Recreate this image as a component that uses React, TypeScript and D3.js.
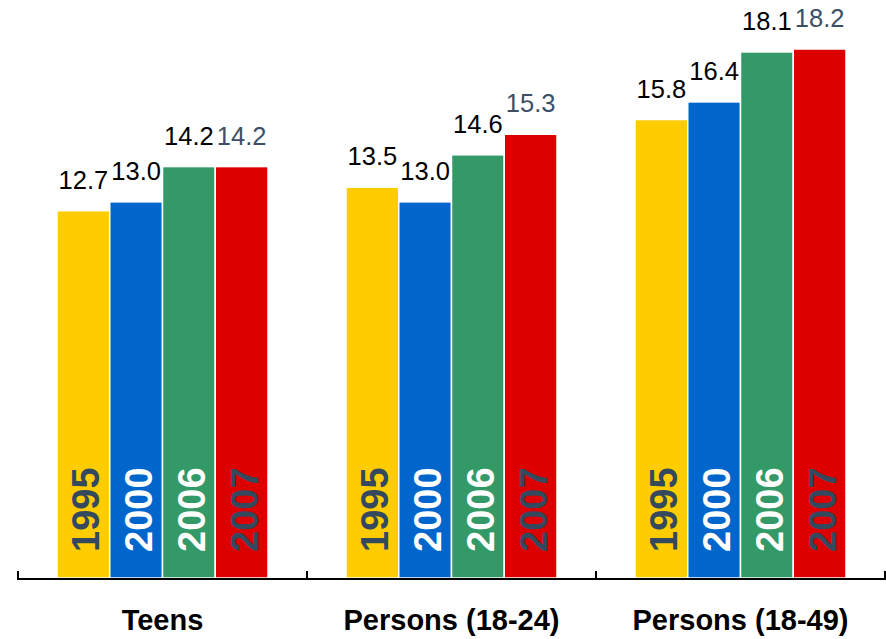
import React from "react";
import * as d3 from "d3";

const categories = ["Teens", "Persons (18-24)", "Persons (18-49)"];
const years = ["1995", "2000", "2006", "2007"];
const values1995 = [12.7, 13.5, 15.8];
const values2000 = [13.0, 13.0, 16.4];
const values2006 = [14.2, 14.6, 18.1];
const values2007 = [14.2, 15.3, 18.2];

const seriesValues = [values1995, values2000, values2006, values2007];
const barColors = ["#FFCC00", "#0066CC", "#339966", "#DD0000"];
const yearTextColors = ["#34495E", "#FFFFFF", "#FFFFFF", "#34495E"];
const valueTextColors = ["#000000", "#000000", "#000000", "#3B4F66"];

const W = 886;
const H = 639;
const axisY = 579;

export default function App() {
  const x0 = d3.scaleBand<string>().domain(categories).range([18, 885]).padding(0);
  const x1 = d3
    .scaleBand<string>()
    .domain(years)
    .range([39, x0.bandwidth() - 39])
    .padding(0);
  const y = d3.scaleLinear().domain([0, 18.2]).range([584, 49]);

  const tickXs = [...categories.map((c) => x0(c) as number), 885];

  return (
    <svg
      width={W}
      height={H}
      style={{ position: "absolute", left: 0, top: 0, background: "#fff" }}
      fontFamily="'Liberation Sans', Arial, sans-serif"
    >
      {categories.map((cat, ci) => (
        <g key={cat} transform={`translate(${x0(cat)},0)`}>
          {years.map((yr, si) => {
            const v = seriesValues[si][ci];
            const bx = x1(yr) as number;
            const bw = x1.bandwidth();
            const top = y(v);
            const cx = bx + bw / 2;
            return (
              <g key={yr}>
                <rect
                  x={bx}
                  y={top}
                  width={bw}
                  height={axisY - 1 - top}
                  fill={barColors[si]}
                  stroke="#fff"
                  strokeWidth={1.5}
                />
                <text
                  x={cx}
                  y={top - 22}
                  textAnchor="middle"
                  fontSize={25.5}
                  fill={valueTextColors[si]}
                >
                  {v.toFixed(1)}
                </text>
                <text
                  transform={`translate(${cx + 16},552) rotate(-90)`}
                  fontSize={38}
                  fontWeight="bold"
                  fill={yearTextColors[si]}
                >
                  {yr}
                </text>
              </g>
            );
          })}
          <text
            x={x0.bandwidth() / 2}
            y={630}
            textAnchor="middle"
            fontSize={29}
            fontWeight="bold"
            fill="#000"
          >
            {cat}
          </text>
        </g>
      ))}
      <line x1={18} x2={885} y1={axisY} y2={axisY} stroke="#000" strokeWidth={2} />
      {tickXs.map((tx, i) => (
        <line key={i} x1={tx} x2={tx} y1={571} y2={580} stroke="#000" strokeWidth={2} />
      ))}
    </svg>
  );
}
